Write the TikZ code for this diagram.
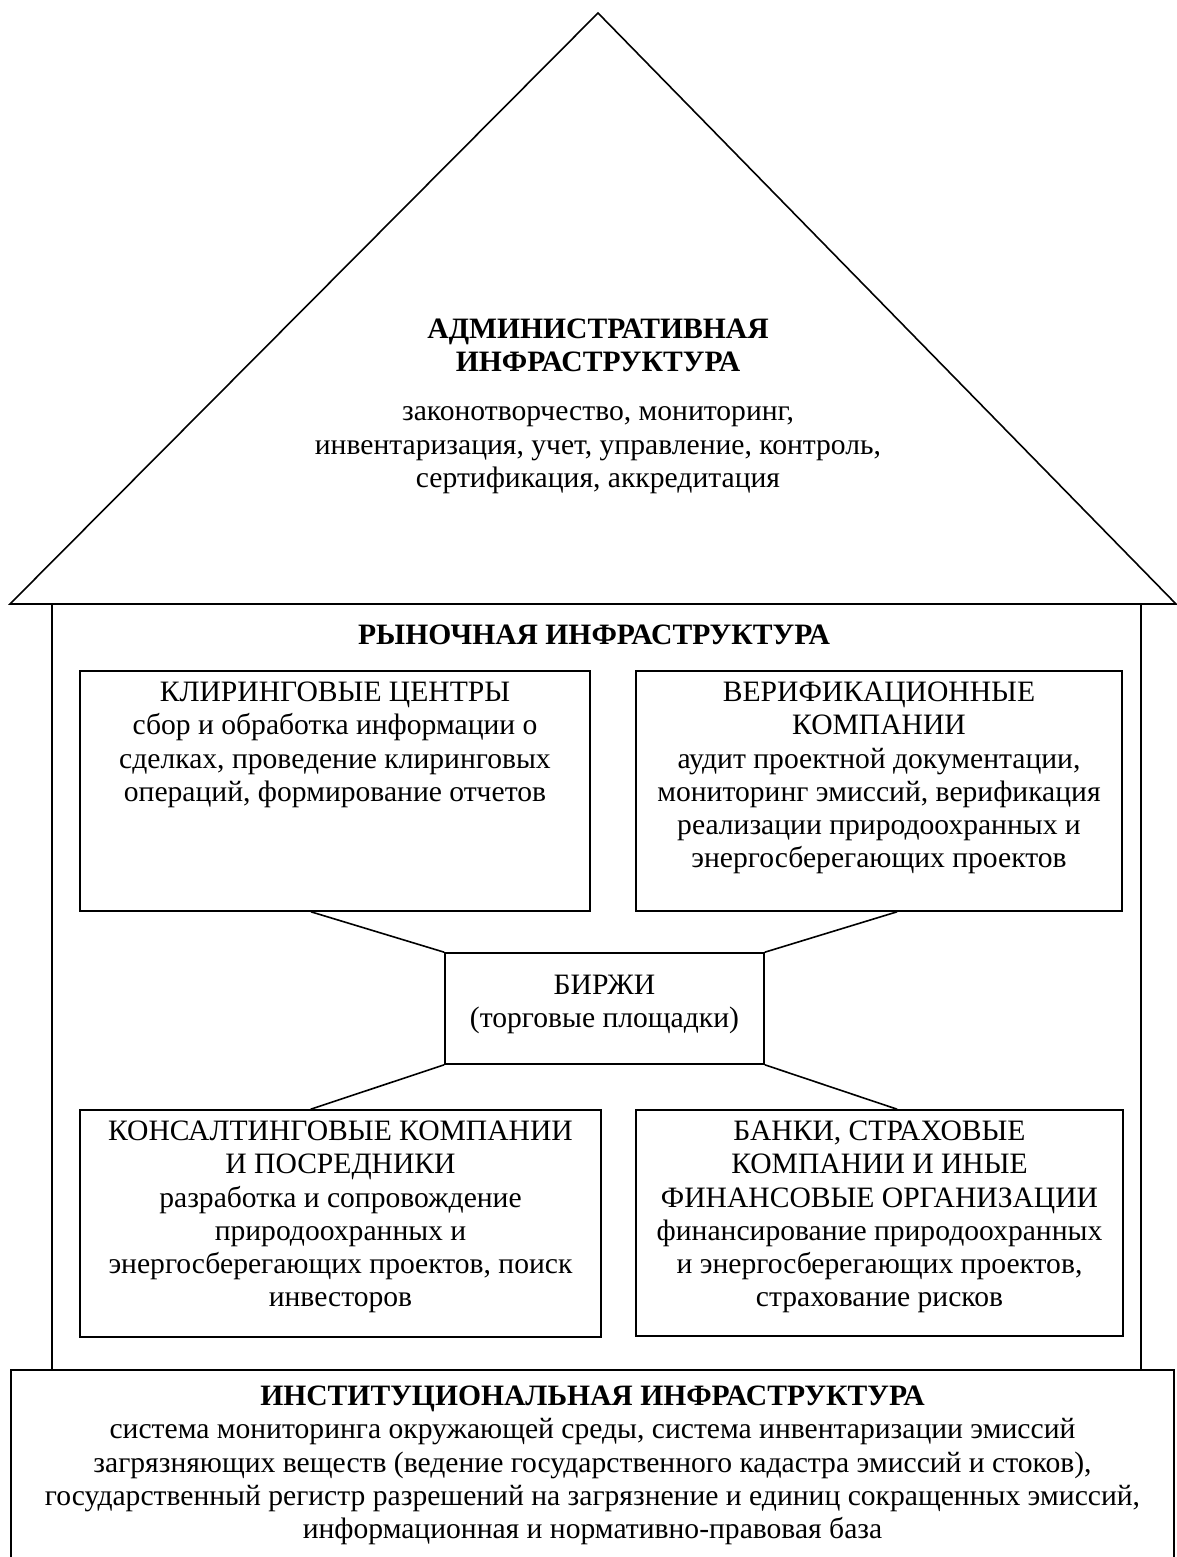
\documentclass[tikz,border=0pt]{standalone}
\usepackage{fontspec}
\setmainfont{Liberation Serif}
\usetikzlibrary{fit,calc}
\begin{document}
\begin{tikzpicture}[x=0.5pt,y=-0.5pt,
  line width=0.8pt,
  txt/.style={align=center,inner sep=0pt,font=\fontsize{14.8pt}{16.6pt}\selectfont},
  frame/.style={draw,inner sep=0pt}]
\useasboundingbox (0,0) rectangle (1177,1557);
% roof
\coordinate (apex) at (598,13);
\coordinate (rl) at (10,604);
\coordinate (rr) at (1176,604);
\draw[line join=miter] (rl) -- (apex) -- (rr) -- cycle;
% institutional base
\node[frame,fit={(11,1370) (1174,1562)}] (inst) {};
% walls
\coordinate (wl) at (52,604);
\coordinate (wr) at (1141,604);
\draw (wl) -- (wl |- inst.north);
\draw (wr) -- (wr |- inst.north);
% admin text
\node[txt,anchor=north] (admin) at (598,318) {\textbf{АДМИНИСТРАТИВНАЯ}\\\textbf{ИНФРАСТРУКТУРА}\\[8pt]
законотворчество, мониторинг,\\инвентаризация, учет, управление, контроль,\\сертификация, аккредитация};
% market title
\node[txt,anchor=north,font=\fontsize{14.8pt}{16.6pt}\selectfont\bfseries] (market) at (594,624) {РЫНОЧНАЯ ИНФРАСТРУКТУРА};
% top boxes
\node[frame,fit={(80,671) (590,911)}] (kc) {};
\node[txt,anchor=north] (kctext) at ([yshift=-5.5pt]kc.north) {КЛИРИНГОВЫЕ ЦЕНТРЫ\\сбор и обработка информации о\\сделках, проведение клиринговых\\операций, формирование отчетов};
\node[frame,fit={(636,671) (1122,911)}] (vk) {};
\node[txt,anchor=north] (vktext) at ([yshift=-5.5pt]vk.north) {ВЕРИФИКАЦИОННЫЕ\\КОМПАНИИ\\аудит проектной документации,\\мониторинг эмиссий, верификация\\реализации природоохранных и\\энергосберегающих проектов};
% exchange
\node[frame,fit={(445,953) (764,1064)}] (birzhi) {};
\node[txt] (birzhitext) at ([yshift=2pt]birzhi.center) {БИРЖИ\\(торговые площадки)};
% bottom boxes
\node[frame,fit={(80,1110) (601,1337)}] (kons) {};
\node[txt,anchor=north] (konstext) at ([yshift=-5.5pt]kons.north) {КОНСАЛТИНГОВЫЕ КОМПАНИИ\\И ПОСРЕДНИКИ\\разработка и сопровождение\\природоохранных и\\энергосберегающих проектов, поиск\\инвесторов};
\node[frame,fit={(636,1110) (1123,1336)}] (bank) {};
\node[txt,anchor=north] (banktext) at ([yshift=-5.5pt]bank.north) {БАНКИ, СТРАХОВЫЕ\\КОМПАНИИ И ИНЫЕ\\ФИНАНСОВЫЕ ОРГАНИЗАЦИИ\\финансирование природоохранных\\и энергосберегающих проектов,\\страхование рисков};
% connectors
\draw (birzhi.north west) -- ($(kc.south west)!0.453!(kc.south east)$);
\draw (birzhi.north east) -- ($(vk.south west)!0.537!(vk.south east)$);
\draw (birzhi.south west) -- ($(kons.north west)!0.443!(kons.north east)$);
\draw (birzhi.south east) -- ($(bank.north west)!0.536!(bank.north east)$);
% institutional text
\node[txt,anchor=north] (insttext) at ([yshift=-8pt]inst.north) {\textbf{ИНСТИТУЦИОНАЛЬНАЯ ИНФРАСТРУКТУРА}\\система мониторинга окружающей среды, система инвентаризации эмиссий\\загрязняющих веществ (ведение государственного кадастра эмиссий и стоков),\\государственный регистр разрешений на загрязнение и единиц сокращенных эмиссий,\\информационная и нормативно-правовая база};
\end{tikzpicture}
\end{document}
